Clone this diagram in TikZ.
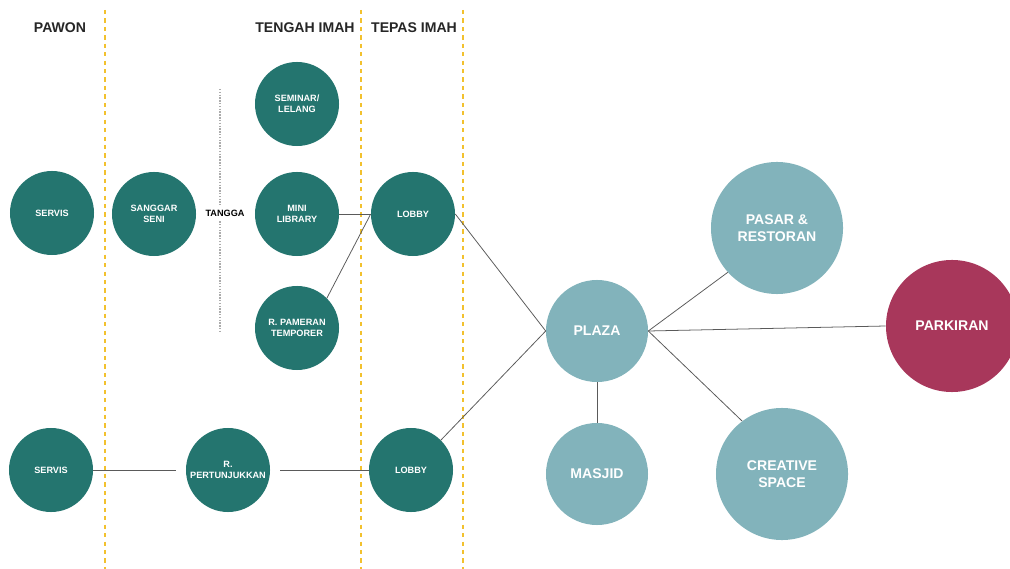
\documentclass[tikz,border=0pt]{standalone}
\usepackage{fontspec}
\setmainfont{Liberation Sans}
\usetikzlibrary{calc}
\definecolor{darkteal}{HTML}{24756F}
\definecolor{lightteal}{HTML}{82B3BB}
\definecolor{parkred}{HTML}{A8375B}
\definecolor{zoneline}{HTML}{F2C12E}
\definecolor{linkgray}{HTML}{5A5A5A}

\begin{document}
\begin{tikzpicture}[x=0.025cm, y=-0.025cm,
    room/.style={circle, fill=darkteal, text=white, inner sep=0pt, minimum size=2.1cm, align=center, font=\bfseries\fontsize{6.5}{8}\selectfont},
    hub/.style={circle, fill=lightteal, text=white, inner sep=0pt, align=center, font=\bfseries\fontsize{10}{12}\selectfont},
    zonesep/.style={draw=zoneline, dashed, line width=0.9pt},
    zonetitle/.style={font=\bfseries\fontsize{10}{12}\selectfont, text=black!85},
    stair/.style={draw=gray!65, densely dotted, line width=1pt},
    link/.style={draw=linkgray, line width=0.55pt}]
    \useasboundingbox (0,0) rectangle (1010,569);

    % zone borders
    \draw[zonesep] (105,10) -- (105,569);
    \draw[zonesep] (361,10) -- (361,569);
    \draw[zonesep] (463,10) -- (463,569);

    \node[zonetitle] (pawon) at (60,28) {PAWON};
    \node[zonetitle] (tengah) at (305,28) {TENGAH IMAH};
    \node[zonetitle] (tepas) at (414,28) {TEPAS IMAH};

    % inner rooms
    \node[room] (servisa) at (52,213) {SERVIS};
    \node[room] (sanggar) at (154,214) {SANGGAR\\SENI};
    \node[room] (seminar) at (297,104) {SEMINAR/\\LELANG};
    \node[room] (library) at (297,214) {MINI\\LIBRARY};
    \node[room] (pameran) at (297,328) {R. PAMERAN\\TEMPORER};
    \node[room] (lobbya) at (413,214) {LOBBY};
    \node[room] (servisb) at (51,470) {SERVIS};
    \node[room] (pertunjukkan) at (228,470) {R.\\PERTUNJUKKAN};
    \node[room] (lobbyb) at (411,470) {LOBBY};

    % stairs
    \node[font=\bfseries\fontsize{6.5}{8}\selectfont] (tangga) at (225,213) {TANGGA};
    \coordinate (stairtop) at (220,89);
    \coordinate (stairbot) at (220,333);
    \draw[stair] (stairtop) -- (tangga.north -| stairtop);
    \draw[stair] (tangga.south -| stairbot) -- (stairbot);

    % outer spaces
    \node[hub, minimum size=2.55cm] (plaza) at (597,331) {PLAZA};
    \node[hub, minimum size=3.3cm] (pasar) at (777,228) {PASAR \&\\RESTORAN};
    \node[hub, minimum size=3.3cm, fill=parkred] (parkiran) at (952,326) {PARKIRAN};
    \node[hub, minimum size=2.55cm] (masjid) at (597,474) {MASJID};
    \node[hub, minimum size=3.3cm] (creative) at (782,474) {CREATIVE\\SPACE};

    % connections
    \draw[link] (library) -- (lobbya);
    \draw[link] (pameran.45) -- (lobbya.west);
    \draw[link] (lobbya.east) -- (plaza.west);
    \draw[link] (lobbyb.45) -- (plaza.west);
    \draw[link, shorten >=7pt] (servisb) -- (pertunjukkan);
    \draw[link, shorten <=7pt] (pertunjukkan) -- (lobbyb);
    \draw[link] (plaza.east) -- (pasar.222);
    \draw[link] (plaza.east) -- (parkiran.west);
    \draw[link] (plaza.east) -- (creative.127);
    \draw[link] (plaza) -- (masjid);
\end{tikzpicture}
\end{document}
